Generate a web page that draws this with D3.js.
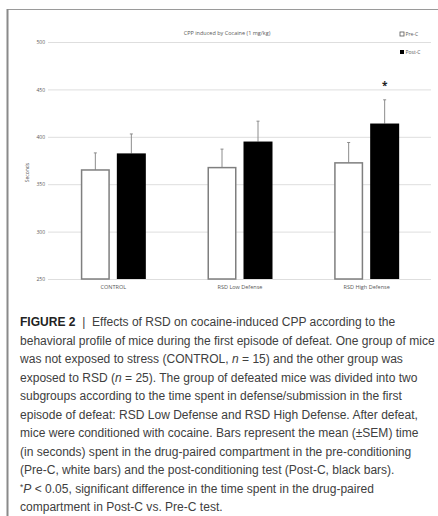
<!DOCTYPE html>
<html>
<head>
<meta charset="utf-8">
<script src="https://cdn.jsdelivr.net/npm/d3@7"></script>
<style>
  html, body { margin: 0; padding: 0; background: #fff; }
  svg { display: block; }
</style>
</head>
<body>
<svg id="fig" width="438" height="516"></svg>
<script>
// CPP data: time (s) spent in the drug-paired compartment, mean ± SEM
const groups = ["CONTROL", "RSD Low Defense", "RSD High Defense"];
const phases = ["Pre-C", "Post-C"];
const preC = [365, 367.5, 372.5];
const postC = [382.5, 395, 414];
const preSEM = [18, 19.5, 21.5];
const postSEM = [20.5, 21.5, 25];
const significant = [false, false, true];
const yTicks = [250, 300, 350, 400, 450, 500];
const chartTitle = "CPP induced by Cocaine (1 mg/kg)";
const yLabel = "Seconds";

const rows = groups.map((g, i) => ({
  group: g,
  sig: significant[i],
  bars: [
    { phase: "Pre-C", value: preC[i], sem: preSEM[i] },
    { phase: "Post-C", value: postC[i], sem: postSEM[i] }
  ]
}));

const svg = d3.select("#fig");
const chartFont = "'Open Sans', 'Liberation Sans', sans-serif";
const textGrey = "#595959";

// Figure frame
svg.append("line").attr("x1", 7).attr("x2", 438).attr("y1", 9.5).attr("y2", 9.5)
  .attr("stroke", "#9a9a9a").attr("stroke-width", 1);
svg.append("line").attr("x1", 7.5).attr("x2", 7.5).attr("y1", 9).attr("y2", 516)
  .attr("stroke", "#8a8a8a").attr("stroke-width", 2);

// Scales
const x = d3.scaleBand().domain(groups).range([50, 430]);
const inner = d3.scaleBand().domain(phases).range([-32.5, 32.5]).paddingInner(7 / 36);
const y = d3.scaleLinear().domain([250, 500]).range([279, 42]);

// Gridlines and tick labels
const yAxis = d3.axisLeft(y).tickValues(yTicks).tickSize(-(431 - 48)).tickFormat(d3.format("d"));
const gy = svg.append("g").attr("transform", "translate(48,0)").call(yAxis);
gy.select(".domain").remove();
gy.selectAll(".tick line").attr("stroke", "#dedede").attr("stroke-width", 1);
gy.selectAll(".tick text").attr("x", -3).attr("fill", textGrey)
  .style("font-family", chartFont).style("font-size", "5px");

// Category axis
const xAxis = d3.axisBottom(x).tickSize(0).tickPadding(6);
const gx = svg.append("g").attr("transform", `translate(0,${y(250)})`).call(xAxis);
gx.select(".domain").remove();
gx.selectAll(".tick text").attr("fill", textGrey)
  .style("font-family", chartFont).style("font-size", "5.5px");

// Bars
const grp = svg.append("g").selectAll("g").data(rows).join("g")
  .attr("transform", d => `translate(${x(d.group) + x.bandwidth() / 2},0)`);

grp.selectAll("line.err").data(d => d.bars).join("line").attr("class", "err")
  .attr("x1", d => inner(d.phase) + inner.bandwidth() / 2)
  .attr("x2", d => inner(d.phase) + inner.bandwidth() / 2)
  .attr("y1", d => y(d.value)).attr("y2", d => y(d.value + d.sem))
  .attr("stroke", "#8c8c8c").attr("stroke-width", 1);
grp.selectAll("line.cap").data(d => d.bars).join("line").attr("class", "cap")
  .attr("x1", d => inner(d.phase) + inner.bandwidth() / 2 - 1.5)
  .attr("x2", d => inner(d.phase) + inner.bandwidth() / 2 + 1.5)
  .attr("y1", d => y(d.value + d.sem)).attr("y2", d => y(d.value + d.sem))
  .attr("stroke", "#8c8c8c").attr("stroke-width", 1);

grp.selectAll("rect").data(d => d.bars).join("rect")
  .attr("x", d => inner(d.phase) + (d.phase === "Pre-C" ? 0.75 : 0))
  .attr("width", d => inner.bandwidth() - (d.phase === "Pre-C" ? 1.5 : 0))
  .attr("y", d => y(d.value))
  .attr("height", d => y(250) - y(d.value))
  .attr("fill", d => d.phase === "Pre-C" ? "#ffffff" : "#000000")
  .attr("stroke", d => d.phase === "Pre-C" ? "#7f7f7f" : "none")
  .attr("stroke-width", 1.5);

// Significance marker above the Post-C error bar
grp.filter(d => d.sig).append("text")
  .attr("x", inner("Post-C") + inner.bandwidth() / 2)
  .attr("y", d => y(d.bars[1].value + d.bars[1].sem) - 11)
  .attr("text-anchor", "middle").attr("fill", "#222")
  .style("font-family", chartFont).style("font-size", "10px").style("font-weight", "bold")
  .text("*");

// Title
svg.append("text").attr("x", 227).attr("y", 35).attr("text-anchor", "middle")
  .attr("fill", textGrey).style("font-family", chartFont).style("font-size", "5.5px")
  .text(chartTitle);

// Y axis label
svg.append("text").attr("transform", `translate(29,${(y(250) + y(500)) / 2 + 12}) rotate(-90)`)
  .attr("text-anchor", "middle").attr("fill", textGrey)
  .style("font-family", chartFont).style("font-size", "5px").text(yLabel);

// Legend
const legend = svg.append("g").selectAll("g").data(phases).join("g")
  .attr("transform", (d, i) => `translate(400,${34 + i * 18})`);
legend.append("rect").attr("x", 0).attr("y", -2).attr("width", 4).attr("height", 4)
  .attr("fill", d => d === "Pre-C" ? "#fff" : "#000")
  .attr("stroke", d => d === "Pre-C" ? "#555" : "none").attr("stroke-width", 0.8);
legend.append("text").attr("x", 5.5).attr("y", 1.8).attr("fill", textGrey)
  .style("font-family", chartFont).style("font-size", "5px").text(d => d);

// Caption
const captionLines = [
  [["b", "FIGURE 2"], ["t", " \u00A0|\u00A0 Effects of RSD on cocaine-induced CPP according to the"]],
  [["t", "behavioral profile of mice during the first episode of defeat. One group of mice"]],
  [["t", "was not exposed to stress (CONTROL, "], ["i", "n"], ["t", " = 15) and the other group was"]],
  [["t", "exposed to RSD ("], ["i", "n"], ["t", " = 25). The group of defeated mice was divided into two"]],
  [["t", "subgroups according to the time spent in defense/submission in the first"]],
  [["t", "episode of defeat: RSD Low Defense and RSD High Defense. After defeat,"]],
  [["t", "mice were conditioned with cocaine. Bars represent the mean (\u00B1SEM) time"]],
  [["t", "(in seconds) spent in the drug-paired compartment in the pre-conditioning"]],
  [["t", "(Pre-C, white bars) and the post-conditioning test (Post-C, black bars)."]],
  [["s", "*"], ["i", "P"], ["t", " < 0.05, significant difference in the time spent in the drug-paired"]],
  [["t", "compartment in Post-C vs. Pre-C test."]]
];

const cap = svg.append("g").style("font-family", "'Liberation Sans', Arial, sans-serif")
  .attr("fill", "#404040");
const capTexts = cap.selectAll("text").data(captionLines).join("text")
  .attr("x", 20).attr("y", (d, i) => 326 + i * 18.5);
capTexts.each(function (parts) {
  const t = d3.select(this);
  parts.forEach(([kind, str]) => {
    const ts = t.append("tspan").text(str);
    if (kind === "b") ts.style("font-weight", "bold").attr("fill", "#222");
    if (kind === "i") ts.style("font-style", "italic");
    if (kind === "s") ts.style("font-size", "0.7em").attr("dy", -3);
    if (kind === "i" && parts[0][0] === "s") ts.attr("dy", 3);
  });
});

// Fit the caption size so the longest line spans the text column
let size = 12;
cap.style("font-size", size + "px");
const widest = d3.max(capTexts.nodes(), n => n.getComputedTextLength());
size = size * 415 / widest;
cap.style("font-size", size + "px");
</script>
</body>
</html>
